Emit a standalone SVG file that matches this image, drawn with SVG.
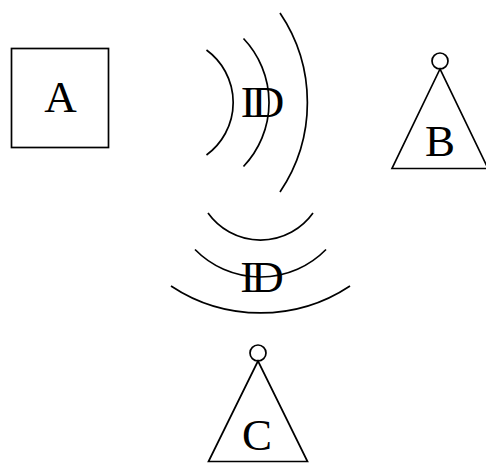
<svg xmlns="http://www.w3.org/2000/svg" width="486" height="463" viewBox="0 0 486 463">
<style>
.s{fill:none;stroke:#000;stroke-width:1.7}
.t{font-family:"Liberation Serif","Times New Roman",serif;font-size:45px;fill:#000;text-anchor:middle}
.id{letter-spacing:-4px}
</style>
<rect width="486" height="463" fill="#fff"/>
<g id="A">
<rect class="s" x="11.5" y="48.5" width="97" height="99"/>
<text class="t" x="60.5" y="112">A</text>
</g>
<g id="B">
<circle class="s" cx="440" cy="61" r="8"/>
<path class="s" d="M440,69 L392,168.5 L488,168.5 Z"/>
<text class="t" x="440" y="156">B</text>
</g>
<g id="C">
<circle class="s" cx="258" cy="353" r="8"/>
<path class="s" d="M258,361 L208.5,461.5 L307.5,461.5 Z"/>
<text class="t" x="257" y="450">C</text>
</g>
<g id="connectors">
<g id="signal-top">
<path class="s" d="M206.5,50 A65,65 0 0 1 206.5,155"/>
<path class="s" d="M243.5,38.5 A93,93 0 0 1 243.5,166.5"/>
<path class="s" d="M280,13 A160,160 0 0 1 280,192"/>
<text class="t id" x="260.5" y="117">ID</text>
</g>
<g id="signal-bottom">
<path class="s" d="M208,213 A64.5,64.5 0 0 0 313,213"/>
<path class="s" d="M195,249.5 A91.7,91.7 0 0 0 326,249.5"/>
<path class="s" d="M171,286 A162,162 0 0 0 350,286"/>
<text class="t id" x="260" y="292">ID</text>
</g>
</g>
</svg>
